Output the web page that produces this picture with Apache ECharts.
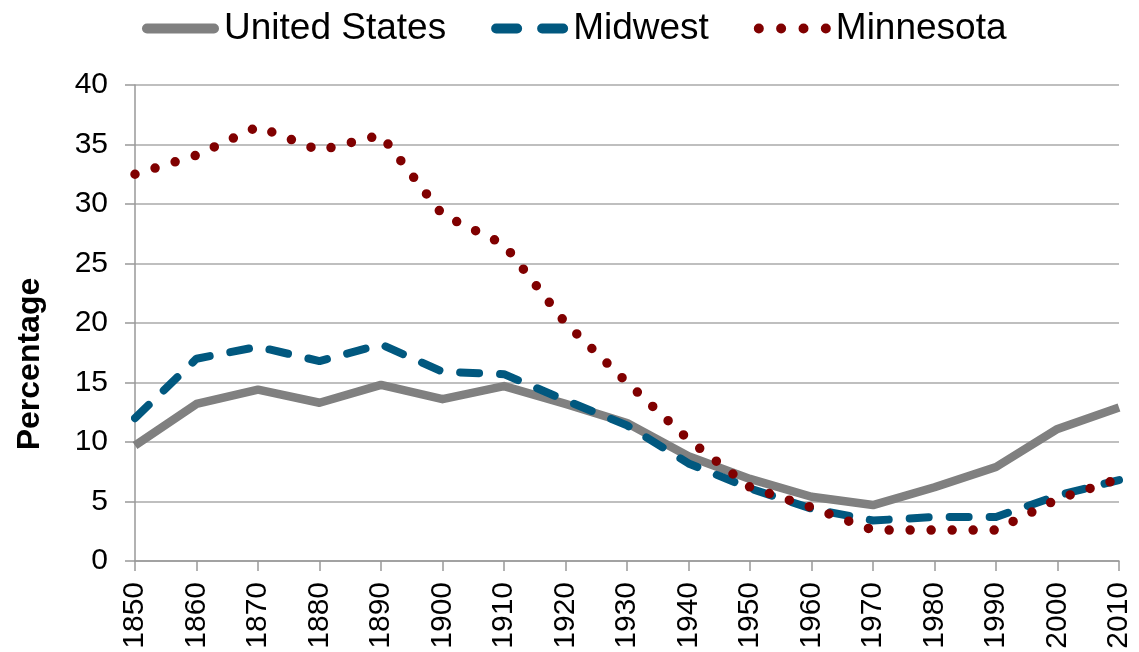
<!DOCTYPE html>
<html>
<head>
<meta charset="utf-8">
<script src="https://cdn.jsdelivr.net/npm/echarts@6/dist/echarts.min.js"></script>
<style>
  html, body { margin: 0; padding: 0; background: #fff; }
  #myChart { width: 1139px; height: 652px; }
</style>
</head>
<body>
<div id="myChart"></div>
<script>
var years = ['1850', '1860', '1870', '1880', '1890', '1900', '1910', '1920', '1930',
  '1940', '1950', '1960', '1970', '1980', '1990', '2000', '2010'];
var unitedStates = [9.7, 13.2, 14.4, 13.3, 14.8, 13.6, 14.7, 13.2, 11.6, 8.8, 6.9, 5.4, 4.7, 6.2, 7.9, 11.1, 12.9];
var midwest = [12.0, 17.0, 18.0, 16.8, 18.2, 15.9, 15.7, 13.5, 11.4, 8.2, 6.1, 4.4, 3.4, 3.7, 3.7, 5.5, 6.8];
var minnesota = [32.5, 34.1, 36.5, 34.5, 35.8, 29.1, 26.6, 20.0, 15.0, 10.2, 6.2, 4.5, 2.6, 2.6, 2.6, 5.2, 6.9];
var yTicks = { min: 0, max: 40, interval: 5 };

(function () {
  var chart = echarts.init(document.getElementById('myChart'));
  var font = 'Liberation Sans, Arial, sans-serif';

  // legend icons drawn as paths (box 77 x 10)
  var iconSolid = 'path://M5,0 H72 A5,5 0 0 1 72,10 H5 A5,5 0 0 1 5,0 Z';
  var iconDash = 'path://M5,0 H26 A5,5 0 0 1 26,10 H5 A5,5 0 0 1 5,0 Z ' +
    'M51,0 H72 A5,5 0 0 1 72,10 H51 A5,5 0 0 1 51,0 Z';
  var dot = function (cx) {
    return 'M' + (cx - 5) + ',5 A5,5 0 1 0 ' + (cx + 5) + ',5 A5,5 0 1 0 ' + (cx - 5) + ',5 Z ';
  };
  var iconDots = 'path://' + dot(5) + dot(27.3) + dot(49.7) + dot(72);

  var option = {
    animation: false,
    textStyle: { fontFamily: font },
    legend: {
      top: 5,
      left: 137,
      itemWidth: 77,
      itemHeight: 10,
      itemGap: 45,
      textStyle: { fontSize: 37, color: '#000', fontFamily: font },
      data: [
        { name: 'United States', icon: iconSolid, itemStyle: { color: '#808080' } },
        { name: 'Midwest', icon: iconDash, itemStyle: { color: '#01587f' } },
        { name: 'Minnesota', icon: iconDots, itemStyle: { color: '#800000' } }
      ]
    },
    grid: { left: 135, right: 20, top: 85, bottom: 91 },
    xAxis: {
      type: 'category',
      data: years,
      boundaryGap: false,
      axisLine: { lineStyle: { color: '#999', width: 1.5 } },
      axisTick: { show: true, length: 10, lineStyle: { color: '#999', width: 1.5 } },
      axisLabel: { rotate: 90, fontSize: 30, color: '#000', margin: 21 }
    },
    yAxis: {
      type: 'value',
      min: yTicks.min,
      max: yTicks.max,
      interval: yTicks.interval,
      name: 'Percentage',
      nameLocation: 'middle',
      nameGap: 89,
      nameTextStyle: { fontSize: 32, fontWeight: 'bold', color: '#000', padding: [0, 82, 0, 0] },
      axisLine: { show: true, lineStyle: { color: '#999', width: 1.5 } },
      axisTick: { show: true, length: 10, lineStyle: { color: '#999', width: 1.5 } },
      axisLabel: { fontSize: 30, color: '#000', margin: 27 },
      splitLine: { lineStyle: { color: '#aaa', width: 1.5 } }
    },
    series: [
      {
        name: 'United States',
        type: 'line',
        data: unitedStates,
        symbol: 'none',
        color: '#808080',
        lineStyle: { width: 8.5, color: '#808080', join: 'round' }
      },
      {
        name: 'Midwest',
        type: 'line',
        data: midwest,
        symbol: 'none',
        color: '#01587f',
        lineStyle: { width: 8, color: '#01587f', type: [19, 21], cap: 'round', join: 'round' }
      },
      {
        name: 'Minnesota',
        type: 'line',
        data: minnesota,
        symbol: 'none',
        color: '#800000',
        lineStyle: { width: 9.5, color: '#800000', type: [0, 21], cap: 'round', join: 'round' }
      }
    ]
  };
  chart.setOption(option);
})();
</script>
</body>
</html>
